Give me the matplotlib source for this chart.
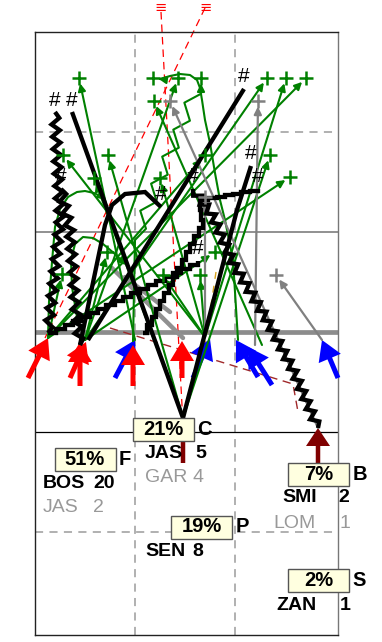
import matplotlib
matplotlib.use("Agg")
import matplotlib.pyplot as plt
from matplotlib.patches import Rectangle
import numpy as np

plt.rcParams['font.family'] = ['Liberation Sans', 'DejaVu Sans']

# ---------------- data (field units: x 0..30 across, y 0..60 up) ----------------
red_tails = [(-0.7, 25.4), (4.5, 24.6), (3.5, 25.4), (9.8, 24.6), (14.7, 25.4)]
red_tips = [(1.3, 29.4), (4.5, 29.0), (5.1, 29.0), (9.8, 28.7), (14.7, 29.1)]
blue_tails = [(8.0, 25.4), (15.8, 25.4), (22.3, 25.5), (23.7, 24.7), (30.3, 25.4)]
blue_tips = [(10.0, 29.2), (17.5, 29.3), (20.1, 29.2), (21.3, 28.5), (28.7, 29.2)]
dred_tails = [(28.3, 16.9), (14.8, 16.9)]
dred_tips = [(28.3, 20.4), (14.8, 20.8)]

green_routes = [
    [(10.0, 29.2), (4.4, 55.4)],
    [(20.3, 29.2), (19.8, 37.2), (19.0, 41.2), (18.5, 43.2), (18.0, 45.9), (17.5, 48.9),
     (17.0, 51.2), (16.7, 53.2), (16.5, 54.4), (16.2, 55.2), (15.5, 55.7), (14.5, 55.8),
     (13.5, 55.6), (12.5, 55.3), (11.8, 55.4)],
    [(5.0, 29.2), (14.3, 55.4)],
    [(9.8, 29.0), (10.0, 39.2)],
    [(10.0, 39.2), (12.2, 44.7), (16.6, 55.4)],
    [(5.0, 29.2), (23.2, 55.4)],
    [(17.0, 29.5), (25.1, 55.4)],
    [(1.3, 29.4), (27.1, 55.4)],
    [(22.7, 28.7), (11.9, 53.1)],
    [(17.0, 29.5), (2.8, 47.7)],
    [(14.8, 21.4), (5.9, 45.4)],
    [(14.8, 21.4), (23.5, 47.7)],
    [(1.3, 29.4), (25.5, 45.5)],
    [(1.3, 29.4), (2.7, 35.8)],
    [(17.0, 29.5), (16.5, 35.7)],
    [(17.0, 29.5), (12.8, 35.7)],
    [(5.0, 29.2), (7.2, 38.0)],
    [(5.0, 29.2), (18.0, 38.0)],
    [(1.3, 29.4), (17.0, 47.7)],
    [(17.0, 29.5), (12.5, 45.4)],
    [(14.8, 21.4), (7.3, 47.7)],
    [(1.3, 29.4), (1.4, 33.0), (1.7, 37.0), (2.0, 40.5), (2.5, 42.3), (3.3, 43.5), (4.2, 44.0),
     (5.0, 44.1), (5.9, 43.9), (6.7, 43.5), (7.5, 42.9)],
    [(5.0, 29.2), (4.2, 31.5), (3.7, 34.5), (3.6, 37.2), (4.0, 38.8), (4.8, 39.5), (5.8, 39.4),
     (6.8, 38.8), (8.0, 37.8), (9.5, 36.3)],
]
green_kind = ['line', 'line', 'line', 'line', 'zig'] + ['line'] * 18
green_arrow = [True, True, True, False, True] + [True] * 18
green_plus = [True, True, True, False, True] + [True] * 16 + [False, False]

gray_routes = [
    [(28.3, 20.4), (13.5, 53.1)],
    [(22.0, 28.7), (22.3, 53.1)],
    [(17.0, 29.7), (17.0, 43.5)],
    [(28.7, 29.2), (24.1, 35.7)],
]
gray_thick = [
    [(7.7, 36.4), (14.8, 29.4)],
    [(9.0, 35.5), (13.5, 32.0)],
]

black_routes = [
    [(1.3, 29.9), (2.5, 41.2), (2.0, 52.0)],
    [(14.8, 21.4), (3.7, 52.0)],
    [(4.5, 28.7), (7.0, 40.7), (7.7, 42.7), (9.0, 43.8), (11.0, 44.0), (12.6, 42.5)],
    [(4.5, 28.7), (4.0, 33.0), (3.5, 40.2), (2.6, 44.3)],
    [(5.3, 29.2), (20.9, 54.3)],
    [(14.8, 21.4), (20.2, 42.2), (21.6, 46.6)],
    [(1.3, 29.9), (16.3, 37.1)],
    [(10.8, 29.9), (16.8, 41.2), (16.5, 43.2), (22.3, 44.3)],
    [(28.3, 20.4), (25.8, 26.2), (23.2, 31.2), (19.8, 36.9), (17.7, 41.7), (15.8, 44.3)],
]
black_kind = ['zig', 'line', 'line', 'zig', 'line', 'line', 'stairs', 'stairs', 'zig2']

red_dashed = [
    [(12.6, 62.0), (14.8, 20.8)],
    [(17.0, 62.4), (1.0, 29.4)],
]
dred_dashed = [(7.5, 30.4), (25.8, 24.8), (26.3, 22.0)]
gold_dashed = [(18.1, 36.0), (17.0, 28.7)]
eq_marks = [(12.6, 62.45), (17.1, 62.45)]

pos_letters = ['C', 'F', 'B', 'P', 'S']
pos_pct = ['21%', '51%', '7%', '19%', '2%']
box_x = [12.85, 5.0, 28.35, 16.7, 28.35]
box_y = [20.25, 17.25, 15.8, 10.5, 5.15]

prim_names = ['JAS', 'BOS', 'SMI', 'SEN', 'ZAN']
prim_nums = ['5', '20', '2', '8', '1']
prim_name_x = [11.0, 0.8, 24.7, 11.0, 24.1]
prim_num_x = [16.0, 5.8, 30.3, 15.7, 30.5]
prim_y = [17.9, 14.9, 13.4, 8.0, 2.7]

sec_names = ['GAR', 'JAS', 'LOM']
sec_nums = ['4', '2', '1']
sec_name_x = [11.0, 0.8, 23.8]
sec_num_x = [15.8, 5.8, 30.5]
sec_y = [15.5, 12.4, 10.9]

# ---------------- helpers (line styles) ----------------
def zigzag(pts, step, amp):
    pts = np.asarray(pts, float)
    seg = np.diff(pts, axis=0)
    L = np.hypot(seg[:, 0], seg[:, 1])
    cum = np.concatenate([[0], np.cumsum(L)])
    n = max(int(cum[-1] / step), 1)
    s = np.linspace(0, cum[-1], n + 1)
    x = np.interp(s, cum, pts[:, 0])
    y = np.interp(s, cum, pts[:, 1])
    idx = np.clip(np.searchsorted(cum, s, side='right') - 1, 0, len(seg) - 1)
    nx = -seg[idx, 1] / L[idx]
    ny = seg[idx, 0] / L[idx]
    sign = np.where(np.arange(n + 1) % 2 == 0, 1.0, -1.0)
    sign[0] = 0
    sign[-1] = 0
    return list(zip(x + sign * amp * nx, y + sign * amp * ny))


def stairs(pts, step):
    out = [tuple(pts[0])]
    for a, b in zip(pts[:-1], pts[1:]):
        L = np.hypot(b[0] - a[0], b[1] - a[1])
        n = max(int(round(L / step)), 1)
        for i in range(n):
            xa = a[0] + (b[0] - a[0]) * (i + 1) / n
            ya = a[1] + (b[1] - a[1]) * (i + 1) / n
            out.append((xa, out[-1][1]))
            out.append((xa, ya))
    return out


def draw_route(ax, pts, color, lw, arrow, z):
    pts = list(pts)
    if arrow:
        body = pts[:-1]
        if len(body) > 1:
            xs, ys = zip(*body)
            ax.plot(xs, ys, color=color, lw=lw, zorder=z, solid_capstyle='round',
                    solid_joinstyle='round')
        ax.annotate('', xy=pts[-1], xytext=pts[-2],
                    arrowprops=dict(arrowstyle='-|>', color=color, lw=lw, shrinkA=0,
                                    shrinkB=4, mutation_scale=11), zorder=z)
    else:
        xs, ys = zip(*pts)
        ax.plot(xs, ys, color=color, lw=lw, zorder=z, solid_capstyle='butt',
                solid_joinstyle='miter')


# ---------------- figure ----------------
fig = plt.figure(figsize=(3.82, 6.42), dpi=100)
ax = fig.add_axes([35 / 382, 7 / 642, 303 / 382, 603 / 642])
ax.set_xlim(0, 30.3)
ax.set_ylim(-0.3, 60.0)
ax.set_xticks([])
ax.set_yticks([])
for sp in ax.spines.values():
    sp.set_linewidth(1.0)
    sp.set_color('#222222')
ax.spines['right'].set_color('#777777')

# grid
for gx in [10, 20]:
    ax.axvline(gx, color='#aaaaaa', lw=1.3, ls=(0, (4.5, 3.5)), zorder=1)
for gy in [10, 50]:
    ax.axhline(gy, color='#aaaaaa', lw=1.3, ls=(0, (4.5, 3.5)), zorder=1)
ax.axhline(40, color='#888888', lw=1.3, zorder=1)
ax.axhline(30, color='#8c8c8c', lw=3.4, zorder=1)
ax.axhline(20, color='black', lw=0.9, zorder=1)

# dashed guide lines
for ln in red_dashed:
    xs, ys = zip(*ln)
    ax.plot(xs, ys, color='red', lw=0.9, ls=(0, (6, 4)), zorder=2, clip_on=False)
xs, ys = zip(*dred_dashed)
ax.plot(xs, ys, color='#a0282a', lw=1.0, ls=(0, (6, 4)), zorder=2)
xs, ys = zip(*gold_dashed)
ax.plot(xs, ys, color='#daa520', lw=1.0, ls=(0, (5, 5)), zorder=2)
for (ex, ey) in eq_marks:
    ax.text(ex, ey, '\u2261', color='red', fontsize=10.5, ha='center', va='center',
            clip_on=False, family=['DejaVu Sans'])

# players
def player(tail, tip, color, hw=2.4, hl=2.0, w=0.5):
    ax.arrow(tail[0], tail[1], tip[0] - tail[0], tip[1] - tail[1], width=w,
             head_width=hw, head_length=hl, length_includes_head=True,
             color=color, lw=0, zorder=3, clip_on=False)

for t, h in zip(blue_tails, blue_tips):
    player(t, h, '#0000ff')
for t, h in zip(red_tails, red_tips):
    player(t, h, '#ff0000')
for t, h in zip(dred_tails, dred_tips):
    player(t, h, '#800000', hw=2.4, hl=1.8, w=0.45)

# gray thick blocking lines
for ln in gray_thick:
    xs, ys = zip(*ln)
    ax.plot(xs, ys, color='#909090', lw=3.2, zorder=3.5, solid_capstyle='round')

# green routes
GREEN = '#008000'
for pts, kind, arr, plus in zip(green_routes, green_kind, green_arrow, green_plus):
    p = zigzag(pts, 1.4, 0.6) if kind == 'zig' else pts
    draw_route(ax, p, GREEN, 1.5, arr, 4)
    if plus:
        ax.plot(pts[-1][0], pts[-1][1], marker='+', ms=10, mew=1.8, color=GREEN, zorder=7)

# gray routes
for pts in gray_routes:
    draw_route(ax, pts, '#808080', 1.6, True, 4.5)
    ax.plot(pts[-1][0], pts[-1][1], marker='+', ms=10, mew=1.8, color='#808080', zorder=7)

# black routes
for pts, kind in zip(black_routes, black_kind):
    if kind == 'zig':
        p = zigzag(pts, 0.6, 0.4)
    elif kind == 'zig2':
        p = zigzag(pts, 0.55, 0.38)
    elif kind == 'stairs':
        p = stairs(pts, 0.9)
    else:
        p = pts
    draw_route(ax, p, 'black', 3.1, False, 5)
    ex, ey = pts[-1]
    ax.text(ex, ey + 1.2, '#', fontsize=15, color='black', ha='center', va='center', zorder=7)

# label boxes
BW, BH = 6.1, 2.3
for bx, by, pct, let in zip(box_x, box_y, pos_pct, pos_letters):
    ax.add_patch(Rectangle((bx - BW / 2, by - BH / 2), BW, BH, facecolor='#ffffe0',
                           edgecolor='#555555', lw=1.0, zorder=8, clip_on=False))
    ax.text(bx, by, pct, fontsize=14.5, fontweight='bold', ha='center', va='center',
            zorder=9, color='black')
    ax.text(bx + BW / 2 + 0.35, by, let, fontsize=14.5, fontweight='bold', ha='left',
            va='center', zorder=9, color='black', clip_on=False)

for nm, nu, nx_, ux, y in zip(prim_names, prim_nums, prim_name_x, prim_num_x, prim_y):
    ax.text(nx_, y, nm, fontsize=14, fontweight='bold', ha='left', va='center', zorder=9)
    ax.text(ux, y, nu, fontsize=14, fontweight='bold', ha='left', va='center', zorder=9,
            clip_on=False)
for nm, nu, nx_, ux, y in zip(sec_names, sec_nums, sec_name_x, sec_num_x, sec_y):
    ax.text(nx_, y, nm, fontsize=14, color='#999999', ha='left', va='center', zorder=9)
    ax.text(ux, y, nu, fontsize=14, color='#999999', ha='left', va='center', zorder=9,
            clip_on=False)

fig.savefig('out.png', dpi=100)
